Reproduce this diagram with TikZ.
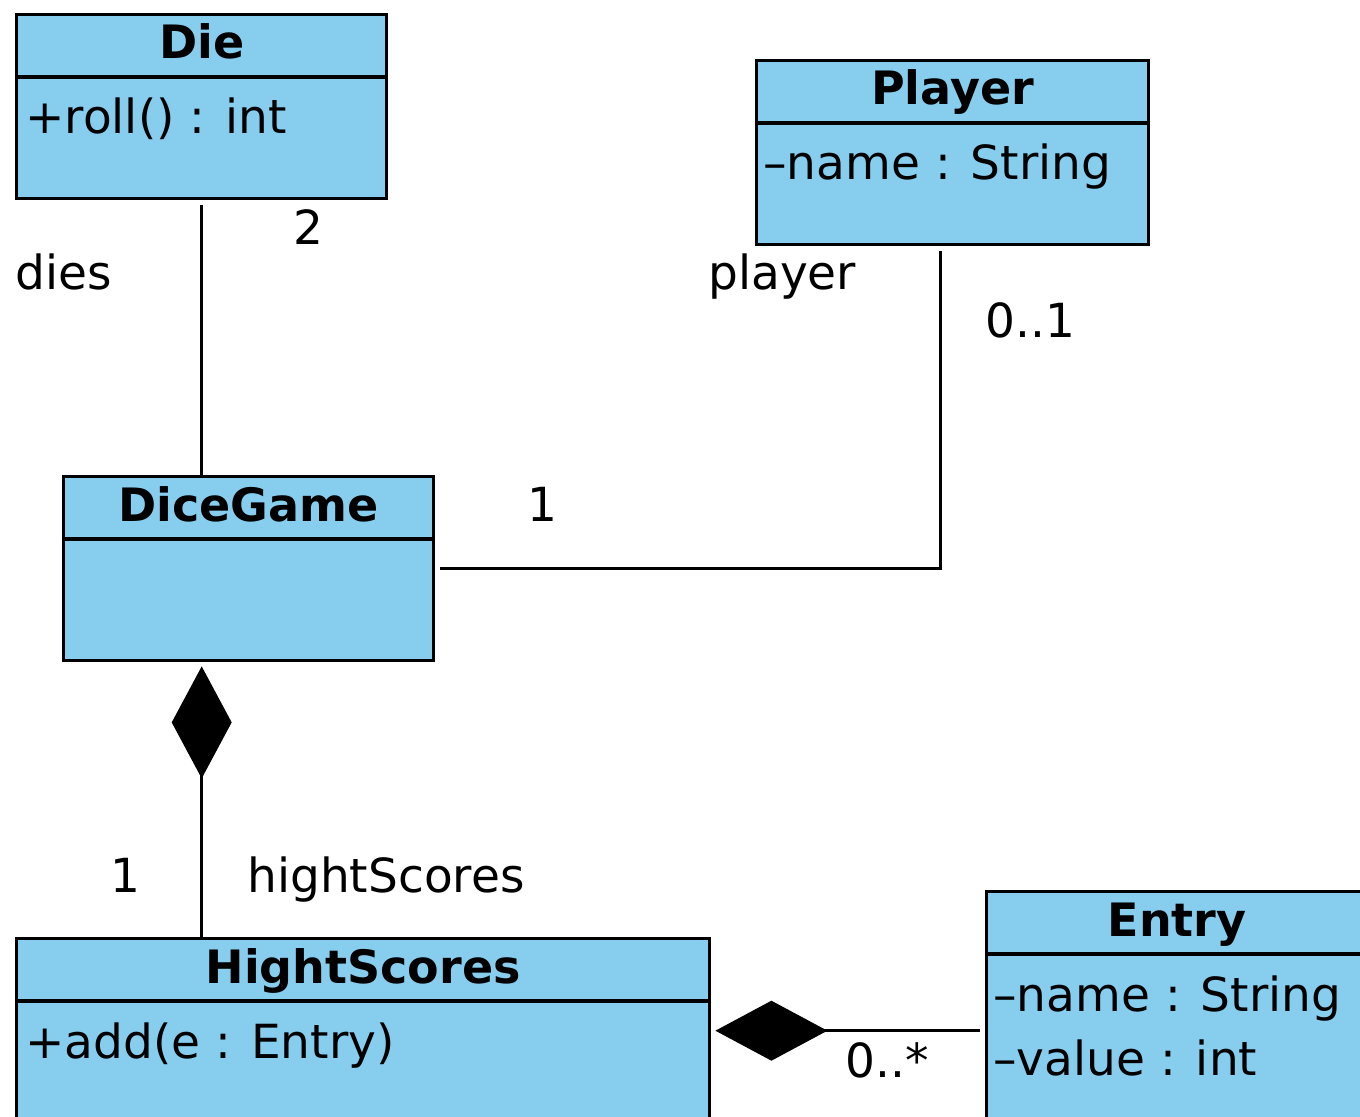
\documentclass[tikz,border=0pt]{standalone}
\usepackage{fontspec}
\setmainfont{DejaVu Sans}
\usetikzlibrary{arrows.meta}
\definecolor{umlblue}{RGB}{135,205,238}
\tikzset{
  cls/.style={draw=black, fill=umlblue, line width=1.7pt, rectangle, inner sep=0pt, anchor=north west, minimum height=92pt},
  divline/.style={line width=1.7pt},
  ctitle/.style={anchor=base, inner sep=0pt, font=\fontsize{23}{28}\selectfont\bfseries},
  attr/.style={anchor=base west, inner sep=0pt, font=\fontsize{23.5}{28}\selectfont},
  lbl/.style={anchor=base west, inner sep=0pt, font=\fontsize{23.5}{28}\selectfont},
  conn/.style={line width=1.4pt, draw=black},
  compo/.style={conn, {Diamond[length=56pt,width=30pt,fill=black]}-}
}
\begin{document}
\begin{tikzpicture}[x=0.5pt,y=-0.5pt]
\useasboundingbox (0,0) rectangle (1360,1117);
\clip (0,0) rectangle (1360,1117);
% Die
\node[cls, minimum width=185pt] (die) at (15,13) {};
\draw[divline] ([yshift=-32pt]die.north west) -- ([yshift=-32pt]die.north east);
\node[ctitle] (dieT) at ([yshift=-23pt]die.north) {Die};
\node[attr] (dieA) at ([xshift=5pt,yshift=-60.5pt]die.north west) {+roll() : int};
% Player
\node[cls, minimum width=196pt] (player) at (755,59) {};
\draw[divline] ([yshift=-32pt]player.north west) -- ([yshift=-32pt]player.north east);
\node[ctitle] (playerT) at ([yshift=-23pt]player.north) {Player};
\node[attr] (playerA) at ([xshift=4pt,yshift=-60.5pt]player.north west) {–name : String};
% DiceGame
\node[cls, minimum width=185pt] (game) at (62,475) {};
\draw[divline] ([yshift=-32pt]game.north west) -- ([yshift=-32pt]game.north east);
\node[ctitle] (gameT) at ([yshift=-23pt]game.north) {DiceGame};
% HightScores
\node[cls, minimum width=346.5pt] (hs) at (15,937) {};
\draw[divline] ([yshift=-32pt]hs.north west) -- ([yshift=-32pt]hs.north east);
\node[ctitle] (hsT) at ([yshift=-23pt]hs.north) {HightScores};
\node[attr] (hsA) at ([xshift=5pt,yshift=-60.5pt]hs.north west) {+add(e : Entry)};
% Entry
\node[cls, minimum width=200pt, minimum height=124pt] (entry) at (985,890) {};
\draw[divline] ([yshift=-32pt]entry.north west) -- ([yshift=-32pt]entry.north east);
\node[ctitle] (entryT) at ([yshift=-23pt]entry.north west -| 1177,0) {Entry};
\node[attr] (entryA) at ([xshift=4pt,yshift=-60.5pt]entry.north west) {–name : String};
\node[attr] (entryB) at ([xshift=4pt,yshift=-92.5pt]entry.north west) {–value : int};
% connectors
\draw[conn] ([yshift=-2.5pt]die.south) -- (die.south |- game.north);
\coordinate (pl) at ([xshift=-6pt,yshift=-2.5pt]player.south);
\draw[conn] ([xshift=2.5pt]game.east) -- (pl |- game.east) -- (pl);
\draw[compo] ([yshift=-2pt]die.south |- game.south) -- (die.south |- hs.north);
\draw[compo] ([xshift=2pt]hs.east) -- ([xshift=-2.5pt]hs.east -| entry.west);
% labels
\node[lbl] (l2) at (293,245) {2};
\node[lbl] (ldies) at (15,290) {dies};
\node[lbl] (lplayer) at (708,290) {player};
\node[lbl] (l01) at (985,338) {0..1};
\node[lbl] (l1a) at (527,522) {1};
\node[lbl] (l1b) at (110,892) {1};
\node[lbl] (lhs) at (247,892) {hightScores};
\node[lbl] (l0s) at (845,1077) {0..*};
\end{tikzpicture}
\end{document}
